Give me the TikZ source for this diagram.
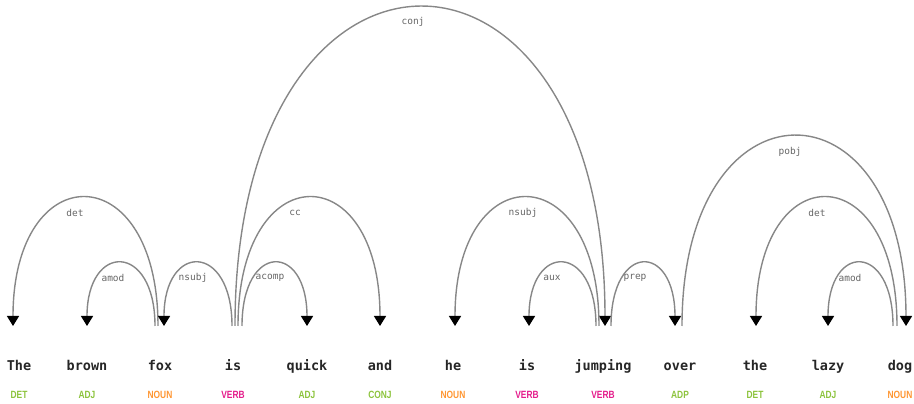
\documentclass[tikz,border=0pt]{standalone}
\usepackage{fontspec}
\setmonofont{DejaVu Sans Mono}
\newfontfamily\posfont[FakeStretch=0.8]{Liberation Sans}
\usetikzlibrary{arrows.meta}
\definecolor{arcgray}{RGB}{135,135,135}
\definecolor{posgreen}{RGB}{140,195,60}
\definecolor{posorange}{RGB}{255,150,50}
\definecolor{posmagenta}{RGB}{228,30,140}
\tikzset{
  word/.style={font=\ttfamily\bfseries\fontsize{13.5}{13.5}\selectfont, text=black!85, anchor=base},
  tag/.style={font=\posfont\bfseries\fontsize{10.5}{10.5}\selectfont, anchor=base},
  rel/.style={font=\ttfamily\fontsize{9.5}{9.5}\selectfont, text=black!60},
  dep/.style={draw=arcgray, line width=1.4pt, -{Triangle[width=12pt,length=10pt,color=black]}},
}

\begin{document}
\begin{tikzpicture}[x=1pt,y=1pt]
\useasboundingbox (0,0) rectangle (914,404);
% words
\node[word] (The) at (19,33) {The};
\node[word] (brown) at (87,33) {brown};
\node[word] (fox) at (160,33) {fox};
\node[word] (is1) at (233,33) {is};
\node[word] (quick) at (307,33) {quick};
\node[word] (and) at (380,33) {and};
\node[word] (he) at (453,33) {he};
\node[word] (is2) at (527,33) {is};
\node[word] (jumping) at (603,33) {jumping};
\node[word] (over) at (680,33) {over};
\node[word] (the2) at (755,33) {the};
\node[word] (lazy) at (828,33) {lazy};
\node[word] (dog) at (900,33) {dog};
% tags
\node[tag,text=posgreen] (The-p) at (19,5) {DET};
\node[tag,text=posgreen] (brown-p) at (87,5) {ADJ};
\node[tag,text=posorange] (fox-p) at (160,5) {NOUN};
\node[tag,text=posmagenta] (is1-p) at (233,5) {VERB};
\node[tag,text=posgreen] (quick-p) at (307,5) {ADJ};
\node[tag,text=posgreen] (and-p) at (380,5) {CONJ};
\node[tag,text=posorange] (he-p) at (453,5) {NOUN};
\node[tag,text=posmagenta] (is2-p) at (527,5) {VERB};
\node[tag,text=posmagenta] (jumping-p) at (603,5) {VERB};
\node[tag,text=posgreen] (over-p) at (680,5) {ADP};
\node[tag,text=posgreen] (the2-p) at (755,5) {DET};
\node[tag,text=posgreen] (lazy-p) at (828,5) {ADJ};
\node[tag,text=posorange] (dog-p) at (900,5) {NOUN};
% arc ends above the words
\coordinate (The-a) at (13,78);
\coordinate (brown-a) at (87,78);
\coordinate (fox-a) at (164,78);
\coordinate (is1-a) at (235,78);
\coordinate (quick-a) at (307,78);
\coordinate (and-a) at (380,78);
\coordinate (he-a) at (455,78);
\coordinate (is2-a) at (529,78);
\coordinate (jumping-a) at (605,78);
\coordinate (over-a) at (675,78);
\coordinate (the2-a) at (756,78);
\coordinate (lazy-a) at (828,78);
\coordinate (dog-a) at (906,78);
% arcs
\draw[dep] ([xshift=-6pt]fox-a) .. controls +(0,171) and +(0,171) .. (The-a);
\draw[dep] ([xshift=-9pt]fox-a) .. controls +(0,84) and +(0,84) .. (brown-a);
\draw[dep] ([xshift=-3pt]is1-a) .. controls +(0,84) and +(0,84) .. (fox-a);
\draw[dep] (is1-a) .. controls +(0,425) and +(0,425) .. (jumping-a);
\draw[dep] ([xshift=3pt]is1-a) .. controls +(0,171) and +(0,171) .. (and-a);
\draw[dep] ([xshift=7pt]is1-a) .. controls +(0,84) and +(0,84) .. (quick-a);
\draw[dep] ([xshift=-6pt]jumping-a) .. controls +(0,171) and +(0,171) .. (he-a);
\draw[dep] ([xshift=-9pt]jumping-a) .. controls +(0,84) and +(0,84) .. (is2-a);
\draw[dep] ([xshift=6pt]jumping-a) .. controls +(0,84) and +(0,84) .. (over-a);
\draw[dep] ([xshift=7pt]over-a) .. controls +(0,253) and +(0,253) .. (dog-a);
\draw[dep] ([xshift=-9pt]dog-a) .. controls +(0,171) and +(0,171) .. (the2-a);
\draw[dep] ([xshift=-13pt]dog-a) .. controls +(0,84) and +(0,84) .. (lazy-a);
% relation labels
\node[rel] (l-det) at (75,191) {det};
\node[rel] (l-amod) at (113,126) {amod};
\node[rel] (l-nsubj) at (193,126) {nsubj};
\node[rel] (l-acomp) at (270,126) {acomp};
\node[rel] (l-cc) at (295,191) {cc};
\node[rel] (l-conj) at (413,382) {conj};
\node[rel] (l-nsubj2) at (523,191) {nsubj};
\node[rel] (l-aux) at (552,126) {aux};
\node[rel] (l-prep) at (635,126) {prep};
\node[rel] (l-pobj) at (790,252) {pobj};
\node[rel] (l-det2) at (817,191) {det};
\node[rel] (l-amod2) at (850,126) {amod};
\end{tikzpicture}
\end{document}
